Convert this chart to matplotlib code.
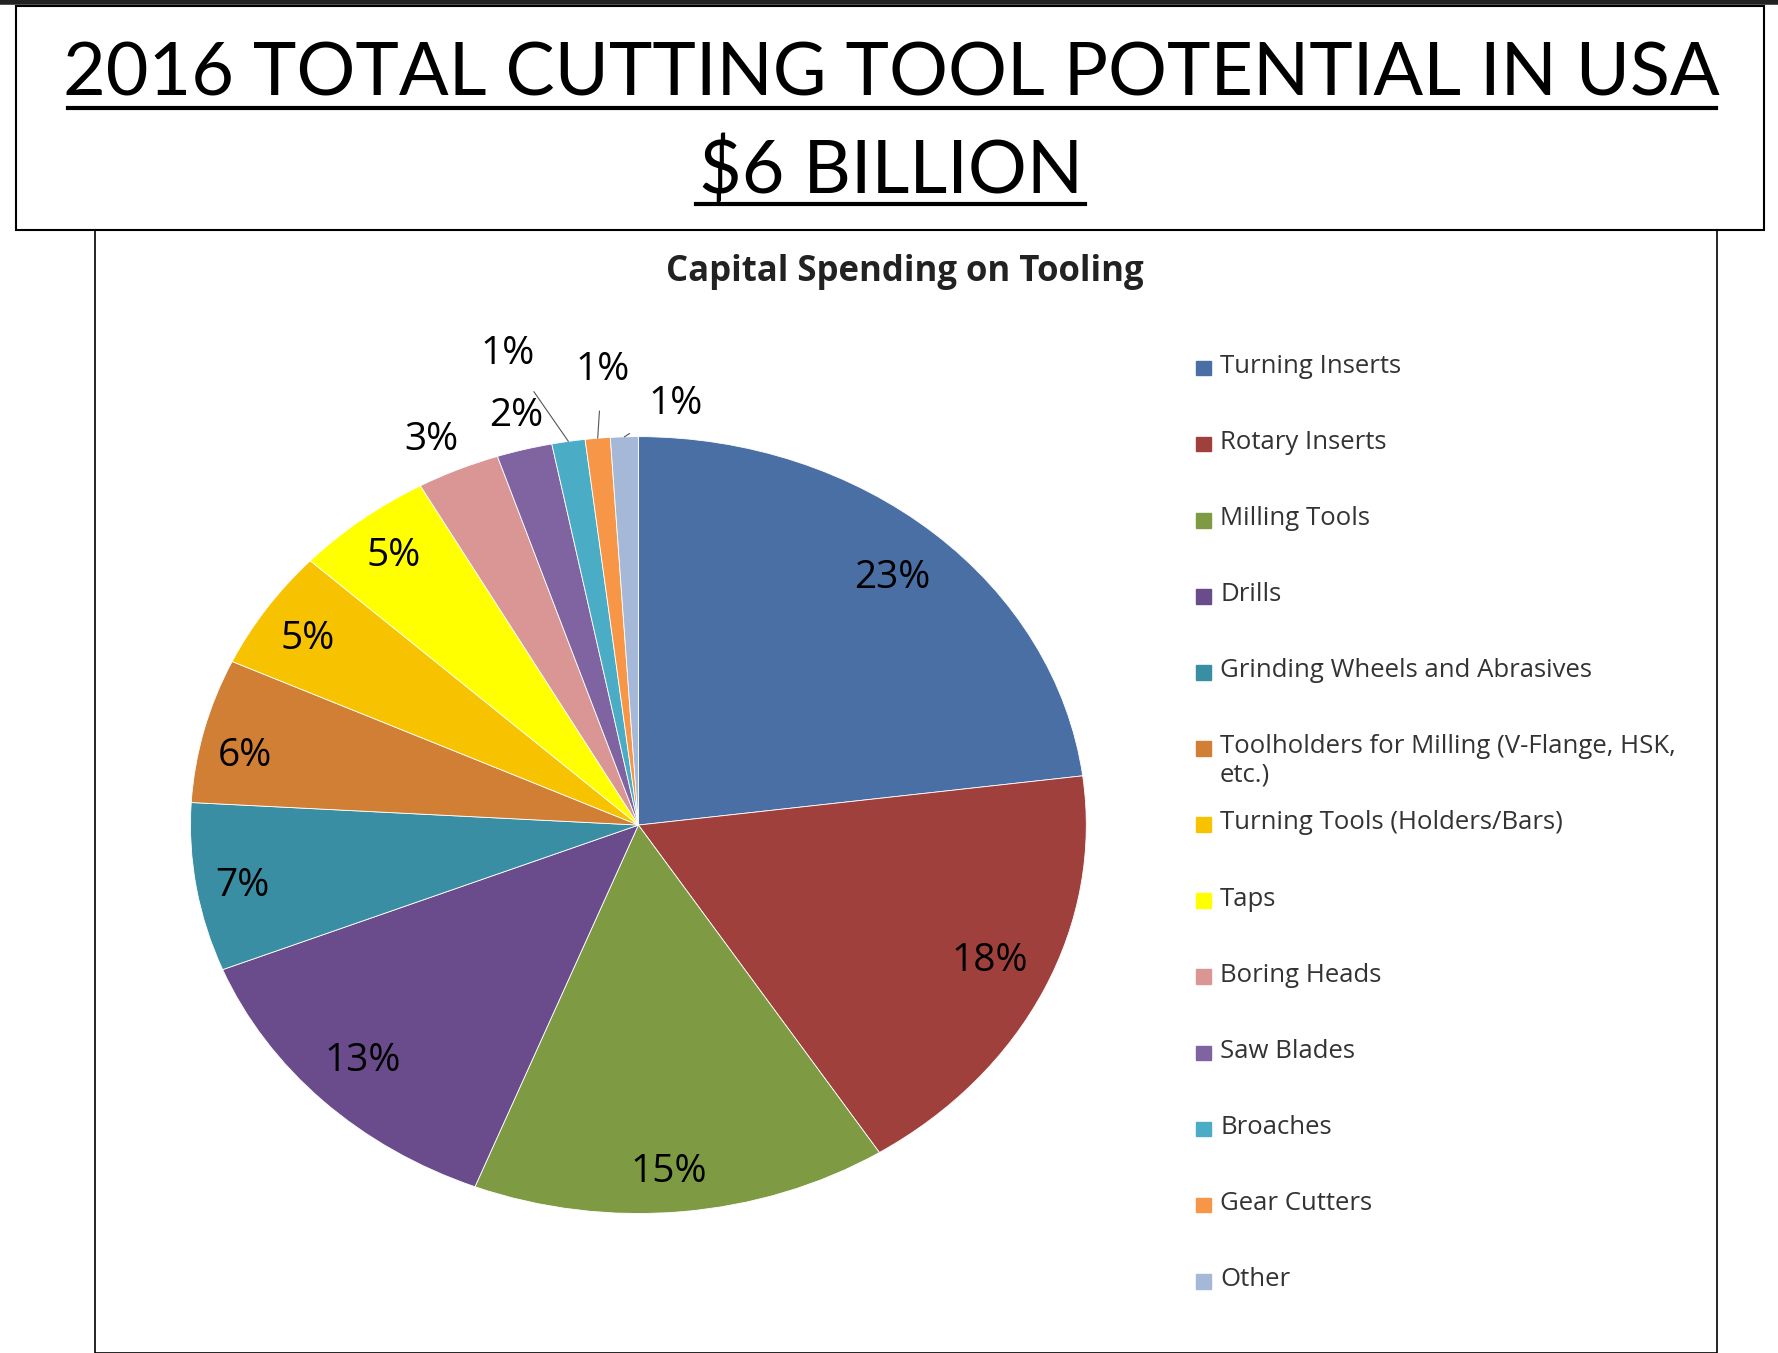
import matplotlib
matplotlib.use("Agg")
import matplotlib.pyplot as plt
import numpy as np
from matplotlib.patches import Rectangle
from matplotlib.lines import Line2D

categories = ["Turning Inserts", "Rotary Inserts", "Milling Tools", "Drills",
              "Grinding Wheels and Abrasives",
              "Toolholders for Milling (V-Flange, HSK,\netc.)",
              "Turning Tools (Holders/Bars)", "Taps", "Boring Heads", "Saw Blades",
              "Broaches", "Gear Cutters", "Other"]
values = [23, 18, 15, 13, 7, 6, 5, 5, 3, 2, 1.2, 0.9, 1.0]
labels = ["23%", "18%", "15%", "13%", "7%", "6%", "5%", "5%", "3%", "2%", "1%", "1%", "1%"]
colors = ["#4a6fa5", "#a0403d", "#7e9a42", "#6a4c8c", "#3a8ea3", "#d07f35",
          "#f7c200", "#ffff00", "#d99694", "#8064a2", "#4bacc6", "#f79646", "#a5b8d8"]
label_pos = [(0.567, 0.637), (0.785, -0.351), (0.068, -0.892), (-0.615, -0.608),
             (-0.884, -0.158), (-0.878, 0.178), (-0.739, 0.48), (-0.547, 0.693),
             (-0.463, 0.991), (-0.273, 1.053), (-0.292, 1.213), (-0.081, 1.172), (0.084, 1.083)]

W, H = 1568, 1193
fig = plt.figure(figsize=(17.78, 13.53), dpi=100)
fig.patch.set_facecolor("white")

def fx(x): return x / W
def fy(y): return 1 - y / H

fig.add_artist(Rectangle((fx(14), fy(203)), fx(1556) - fx(14), fy(5) - fy(203),
                         fill=False, lw=1.5, ec="black", transform=fig.transFigure))
fig.add_artist(Rectangle((fx(84), fy(1193)), fx(1514) - fx(84), fy(203) - fy(1193),
                         fill=False, lw=1.2, ec="black", transform=fig.transFigure))
fig.add_artist(Line2D([0, 1], [fy(2), fy(2)], lw=4, color="#222", transform=fig.transFigure))

tfont = dict(family="Lato", fontsize=53, color="black", ha="center", va="baseline")
fig.text(fx(786), fy(84), "2016 TOTAL CUTTING TOOL POTENTIAL IN USA", **tfont)
fig.text(fx(786), fy(170), "$6 BILLION", **tfont)
fig.add_artist(Line2D([fx(60), fx(1513)], [fy(95), fy(95)], lw=3, color="black", transform=fig.transFigure))
fig.add_artist(Line2D([fx(614), fx(957)], [fy(180), fy(180)], lw=3, color="black", transform=fig.transFigure))

fig.text(fx(798), fy(240), "Capital Spending on Tooling", family="Open Sans",
         fontsize=25, fontweight="bold", ha="center", va="center", color="#222")

ax = fig.add_axes([fx(168), fy(1070), fx(958) - fx(168), fy(385) - fy(1070)])
wedges, _ = ax.pie(values, colors=colors, startangle=90, counterclock=False,
                   radius=1, wedgeprops=dict(edgecolor="white", linewidth=0.6))
ax.set_xlim(-1, 1); ax.set_ylim(-1, 1); ax.set_aspect("auto"); ax.axis("off")

total = sum(values)
cum = 0
for i, v in enumerate(values):
    mid = 90 - (cum + v / 2) / total * 360
    cum += v
    a = np.radians(mid)
    tx, ty = label_pos[i]
    if i >= 10:
        ax.annotate(labels[i], xy=(np.cos(a), np.sin(a)), xytext=(tx, ty),
                    fontsize=28, family="Open Sans", ha="center", va="center",
                    arrowprops=dict(arrowstyle="-", color="#555", lw=0.8,
                                    shrinkA=14, shrinkB=0))
    else:
        ax.text(tx, ty, labels[i], fontsize=28, family="Open Sans",
                ha="center", va="center", color="black")

y0, dy = 325, 67.1
for i, c in enumerate(categories):
    y = y0 + i * dy
    fig.add_artist(Rectangle((fx(1055), fy(y + 6)), fx(13), fy(0) - fy(13), color=colors[i],
                             transform=fig.transFigure))
    fig.text(fx(1076), fy(y - 13), c, family="Open Sans", fontsize=18.5, va="top",
             ha="left", color="#333", linespacing=1.15)

fig.savefig("out.png", dpi=100)
